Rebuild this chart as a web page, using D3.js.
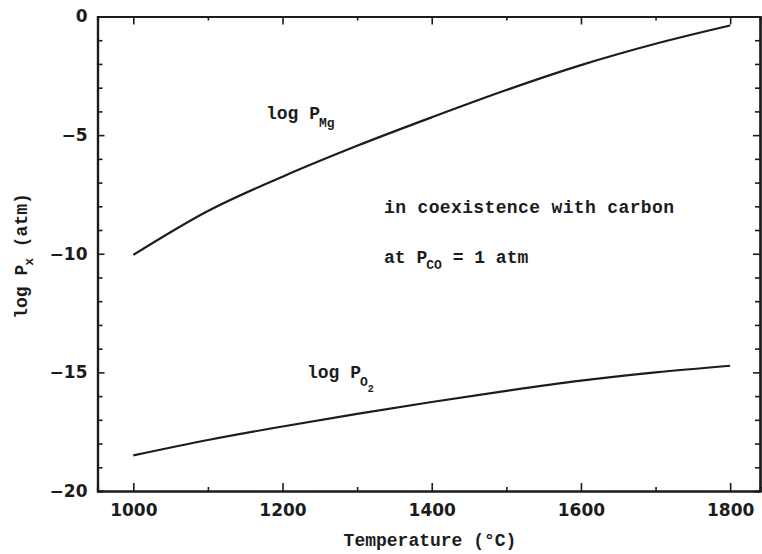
<!DOCTYPE html>
<html lang="en">
<head>
    <meta charset="UTF-8">
    <title>log P vs Temperature</title>
    <script src="https://cdnjs.cloudflare.com/ajax/libs/d3/7.8.2/d3.min.js"></script>
    <style>
        body{
            margin: 0;
            background-color: white;
        }
        svg{
            display: block;
        }
        .axis path, .axis line{
            stroke: #1c1c1c;
        }
    </style>
</head>
<body>
    <div class="container"></div>
    <script>
        // data
        let temps = [1000, 1100, 1200, 1300, 1400, 1500, 1600, 1700, 1800];
        let logPMg = [-10.05, -8.2, -6.75, -5.45, -4.25, -3.1, -2.05, -1.15, -0.38];
        let logPO2 = [-18.5, -17.85, -17.28, -16.75, -16.25, -15.78, -15.35, -15.0, -14.72];

        let xMajorTicks = [1000, 1200, 1400, 1600, 1800];
        let xMinorTicks = [1100, 1300, 1500, 1700];
        let yMajorTicks = [0, -5, -10, -15, -20];
        let yMinorTicks = d3.range(-19, 0).filter(d => d % 5 !== 0);

        let width = 762;
        let height = 554;
        let mono = '"Liberation Mono", "DejaVu Sans Mono", monospace';
        let ink = '#1c1c1c';

        let svg = d3.select('.container').append('svg')
                    .attr('width', width).attr('height', height);

        let xScale = d3.scaleLinear().domain([952, 1840]).range([97.5, 760]);
        let yScale = d3.scaleLinear().domain([-20, 0]).range([491, 16.5]);

        const drawAxes = () => {
            // bottom and top
            svg.append('g').attr('class', 'axis')
               .attr('transform', `translate(0,${yScale(-20)})`)
               .call(d3.axisBottom(xScale).tickValues(xMajorTicks).tickSizeInner(-8).tickSizeOuter(0).tickPadding(13)
                     .tickFormat(d3.format('d')));
            svg.append('g').attr('class', 'axis minor')
               .attr('transform', `translate(0,${yScale(-20)})`)
               .call(d3.axisBottom(xScale).tickValues(xMinorTicks).tickSize(-4).tickFormat(''));
            svg.append('g').attr('class', 'axis')
               .attr('transform', `translate(0,${yScale(0)})`)
               .call(d3.axisTop(xScale).tickValues(xMajorTicks).tickSizeInner(-8).tickSizeOuter(0).tickFormat(''));
            svg.append('g').attr('class', 'axis minor')
               .attr('transform', `translate(0,${yScale(0)})`)
               .call(d3.axisTop(xScale).tickValues(xMinorTicks).tickSize(-4).tickFormat(''));

            // left and right
            svg.append('g').attr('class', 'axis')
               .attr('transform', `translate(${xScale(952)},0)`)
               .call(d3.axisLeft(yScale).tickValues(yMajorTicks).tickSizeInner(-7).tickSizeOuter(0).tickPadding(10)
                     .tickFormat(d => d < 0 ? '\u2212' + Math.abs(d) : d));
            svg.append('g').attr('class', 'axis minor')
               .attr('transform', `translate(${xScale(952)},0)`)
               .call(d3.axisLeft(yScale).tickValues(yMinorTicks).tickSize(-5).tickFormat(''));
            svg.append('g').attr('class', 'axis')
               .attr('transform', `translate(${xScale(1840)},0)`)
               .call(d3.axisRight(yScale).tickValues(yMajorTicks).tickSizeInner(-7).tickSizeOuter(0).tickFormat(''));
            svg.append('g').attr('class', 'axis minor')
               .attr('transform', `translate(${xScale(1840)},0)`)
               .call(d3.axisRight(yScale).tickValues(yMinorTicks).tickSize(-5).tickFormat(''));

            svg.selectAll('.axis path.domain').attr('stroke-width', 2.2);
            svg.selectAll('.axis line').attr('stroke-width', 1.6);
            svg.selectAll('.axis text')
               .attr('font-family', '"DejaVu Sans", sans-serif')
               .attr('font-weight', 'bold')
               .attr('font-size', 17)
               .attr('fill', ink);
        };

        const drawCurves = () => {
            let line = d3.line()
                         .x((d, i) => xScale(temps[i]))
                         .y(d => yScale(d))
                         .curve(d3.curveMonotoneX);

            [logPMg, logPO2].forEach(series => {
                svg.append('path')
                   .datum(series)
                   .attr('d', line)
                   .attr('fill', 'none')
                   .attr('stroke', ink)
                   .attr('stroke-width', 2.2);
            });
        };

        const addText = (x, y, parts, size) => {
            let t = svg.append('text')
                       .attr('x', x).attr('y', y)
                       .attr('font-family', mono)
                       .attr('font-weight', 'bold')
                       .attr('font-size', size)
                       .attr('fill', ink);
            parts.forEach(p => {
                t.append('tspan')
                 .attr('dy', p.dy || 0)
                 .attr('dx', p.dx || 0)
                 .attr('font-size', p.size || size)
                 .text(p.text);
            });
            return t;
        };

        const drawLabels = () => {
            addText(266, 119, [{text: 'log P'}, {text: 'Mg', size: 13, dy: 8, dx: -1}], 18);
            addText(307, 378, [{text: 'log P'}, {text: 'O', size: 13, dy: 8, dx: -1}, {text: '2', size: 10, dy: 6}], 18);
            addText(384, 213, [{text: 'in coexistence with carbon'}], 18)
               .attr('textLength', 290).attr('lengthAdjust', 'spacing');
            addText(384, 263, [{text: 'at P'}, {text: 'CO', size: 13, dy: 6, dx: -1}, {text: ' = 1 atm', dy: -6}], 18);

            addText(430, 546, [{text: 'Temperature (\u00b0C)'}], 18)
               .attr('text-anchor', 'middle');

            addText(0, 0, [{text: 'log P'}, {text: 'x', size: 13, dy: 6, dx: -1}, {text: ' (atm)', dy: -6}], 18)
               .attr('text-anchor', 'middle')
               .attr('transform', 'translate(27,256) rotate(-90)');
        };

        drawAxes();
        drawCurves();
        drawLabels();
    </script>
</body>
</html>
